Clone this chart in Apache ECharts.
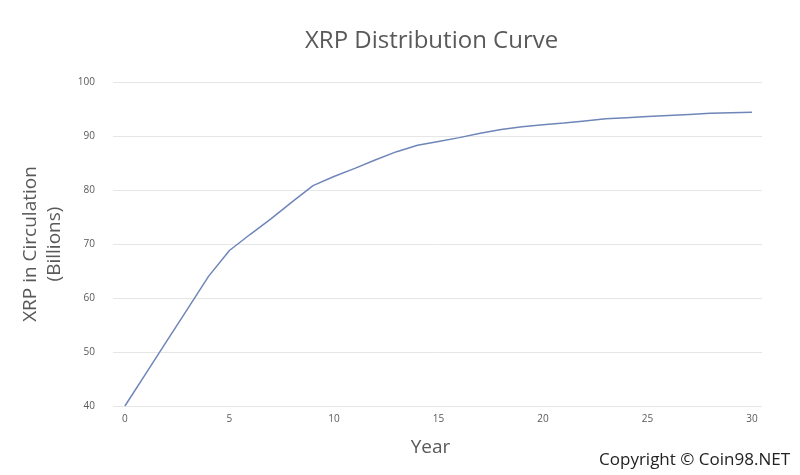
<!DOCTYPE html>
<html><head><meta charset="utf-8">
<script src="https://cdn.jsdelivr.net/npm/echarts@6/dist/echarts.min.js"></script>
<style>html,body{margin:0;padding:0;background:#fff}#c{width:800px;height:475px}</style>
</head><body><div id="c"></div>
<script>
const years = [0,1,2,3,4,5,6,7,8,9,10,11,12,13,14,15,16,17,18,19,20,21,22,23,24,25,26,27,28,29,30];
const supply = [40,46,52,58,64,68.8,71.8,74.7,77.8,80.8,82.5,84,85.6,87.1,88.3,89,89.7,90.5,91.2,91.7,92.1,92.4,92.8,93.2,93.4,93.6,93.8,94.0,94.2,94.3,94.4];
const xTicks = [0,5,10,15,20,25,30];
const chart = echarts.init(document.getElementById('c'));
chart.setOption({
  animation:false,
  textStyle:{fontFamily:'Open Sans'},
  title:{text:'XRP Distribution Curve',left:300,top:24,textStyle:{fontSize:24,fontWeight:'normal',color:'#595959',fontFamily:'Open Sans'}},
  grid:{left:113,right:38,top:82,bottom:69},
  xAxis:{type:'value',min:-0.57,max:30.48,name:'Year',nameLocation:'middle',nameGap:32,
    nameTextStyle:{fontSize:19,color:'#595959',padding:[0,14,0,0]},
    axisLine:{show:false},axisTick:{show:false},splitLine:{show:false},
    axisLabel:{customValues:xTicks,color:'#595959',fontSize:10}},
  yAxis:{type:'value',min:40,max:100,interval:10,name:'XRP in Circulation\n(Billions)',nameLocation:'middle',nameGap:46,
    nameTextStyle:{fontSize:19,color:'#595959',lineHeight:24},
    axisLine:{show:false},axisTick:{show:false},
    splitLine:{lineStyle:{color:'#e6e6e6'}},
    axisLabel:{color:'#595959',fontSize:10,margin:18}},
  graphic:[{type:'text',right:10,bottom:6,style:{text:'Copyright © Coin98.NET',fontSize:17,fill:'#222',fontFamily:'Open Sans'}}],
  series:[{type:'line',data:years.map((y,i)=>[y,supply[i]]),showSymbol:false,lineStyle:{color:'#6f86b9',width:1.5}}]
});
</script></body></html>
